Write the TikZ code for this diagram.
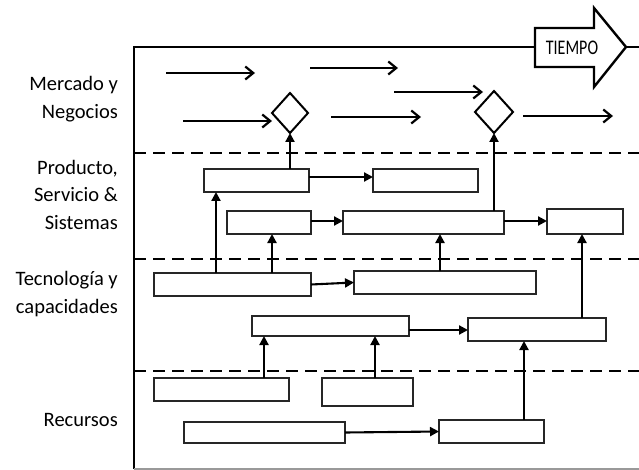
\documentclass[tikz,border=0pt]{standalone}
\usepackage{fontspec}
\setmainfont{Carlito}
\usetikzlibrary{arrows.meta,shapes.geometric}

\tikzset{
  lane/.style={line width=2.4pt, dash pattern=on 12pt off 7pt},
  frame/.style={line width=2.2pt},
  stagebox/.style={draw=black!85, line width=1.6pt, fill=white, rectangle,
    inner sep=0pt, outer sep=0pt},
  gate/.style={draw, line width=2pt, diamond, fill=white, inner sep=0pt,
    outer sep=0pt},
  flow/.style={line width=2.2pt, -{Straight Barb[length=8pt,width=13pt]}},
  conn/.style={line width=2.1pt, -{Triangle[length=9pt,width=9pt]}},
  lanelabel/.style={anchor=east, align=right, font=\fontsize{20.5}{27.5}\selectfont,
    inner sep=0pt},
}

\begin{document}
\begin{tikzpicture}[x=1pt, y=-1pt]
\useasboundingbox (0,0) rectangle (639,470);

% outer frame
\draw[frame] (134,469) -- (134,47) -- (639,47);
\draw[line width=1.6pt, black!40] (134,469) -- (639,469);

% time arrow
\draw[line width=2.4pt, fill=white, line join=miter]
  (535,28) -- (594,28) -- (594,8) -- (626,47) -- (594,87) -- (594,67)
  -- (535,67) -- cycle;
\node[font=\fontsize{16}{16}\selectfont] (tiempo) at (572,48) {\scalebox{1}[1.3]{TIEMPO}};

% lane separators
\draw[lane] (134,153) -- (639,153);
\draw[lane] (134,259) -- (639,259);
\draw[lane] (134,371) -- (639,371);

% lane labels
\node[lanelabel] (l1) at (118,99) {Mercado y\\Negocios};
\node[lanelabel] (l2) at (118,194.5) {Producto,\\Servicio \&\\Sistemas};
\node[lanelabel] (l3) at (118,294) {Tecnología y\\capacidades};
\node[lanelabel] (l4) at (118,420) {Recursos};

% market decision points
\node[gate, minimum width=36pt, minimum height=40pt] (d1) at (290,113) {};
\node[gate, minimum width=38pt, minimum height=42pt] (d2) at (494,112) {};

% market flows
\coordinate (m1a) at (166,73);  \coordinate (m1b) at (255,73);
\coordinate (m2a) at (310,68);  \coordinate (m2b) at (398,68);
\coordinate (m3a) at (394,92);  \coordinate (m3b) at (483,92);
\coordinate (m4a) at (183,121); \coordinate (m4b) at (272,121);
\coordinate (m5a) at (331,117); \coordinate (m5b) at (421,117);
\coordinate (m6a) at (523,116); \coordinate (m6b) at (613,116);
\draw[flow] (m1a) -- (m1b);
\draw[flow] (m2a) -- (m2b);
\draw[flow] (m3a) -- (m3b);
\draw[flow] (m4a) -- (m4b);
\draw[flow] (m5a) -- (m5b);
\draw[flow] (m6a) -- (m6b);

% product / service / systems
\node[stagebox, minimum width=105pt, minimum height=23pt] (p1) at (256.5,180.5) {};
\node[stagebox, minimum width=105pt, minimum height=23pt] (p2) at (425.5,180.5) {};
\node[stagebox, minimum width=84pt,  minimum height=23pt] (p3) at (269,222.5) {};
\node[stagebox, minimum width=161pt, minimum height=23pt] (p4) at (423.5,222.5) {};
\node[stagebox, minimum width=76pt,  minimum height=25pt] (p5) at (585,221.5) {};

% technology and capabilities
\node[stagebox, minimum width=157pt, minimum height=23pt] (t1) at (232.5,284.5) {};
\node[stagebox, minimum width=182pt, minimum height=23pt] (t2) at (445,282.5) {};
\node[stagebox, minimum width=157pt, minimum height=20pt] (t3) at (330.5,326) {};
\node[stagebox, minimum width=138pt, minimum height=23pt] (t4) at (537,329.5) {};

% resources
\node[stagebox, minimum width=135pt, minimum height=23pt] (r1) at (221.5,389.5) {};
\node[stagebox, minimum width=91pt,  minimum height=28pt] (r2) at (367.5,392) {};
\node[stagebox, minimum width=161pt, minimum height=21pt] (r3) at (264.5,432.5) {};
\node[stagebox, minimum width=105pt, minimum height=23pt] (r4) at (491.5,431.5) {};

% guide positions for connectors
\coordinate (x1) at (216,0);
\coordinate (x2) at (272,0);
\coordinate (x3) at (440,0);
\coordinate (x4) at (582,0);
\coordinate (x5) at (264,0);
\coordinate (x6) at (375,0);
\coordinate (x7) at (524,0);
\coordinate (y1) at (0,177);
\coordinate (y2) at (0,221);
\coordinate (y3) at (0,330);

% vertical links
\draw[conn] (p1.north -| d1.south) -- (d1.south);
\draw[conn] (p4.north -| d2.south) -- (d2.south);
\draw[conn] (t1.north -| x1) -- (p1.south -| x1);
\draw[conn] (t1.north -| x2) -- (p3.south -| x2);
\draw[conn] (t2.north -| x3) -- (p4.south -| x3);
\draw[conn] (t4.north -| x4) -- (p5.south -| x4);
\draw[conn] (r1.north -| x5) -- (t3.south -| x5);
\draw[conn] (r2.north -| x6) -- (t3.south -| x6);
\draw[conn] (r4.north -| x7) -- (t4.south -| x7);

% horizontal links
\draw[conn] (p1.east |- y1) -- (p2.west |- y1);
\draw[conn] (p3.east |- y2) -- (p4.west |- y2);
\draw[conn] (p4.east |- y2) -- (p5.west |- y2);
\draw[conn] (t1.east) -- (t2.west);
\draw[conn] (t3.east |- y3) -- (t4.west |- y3);
\draw[conn] (r3.east) -- (r4.west);
\end{tikzpicture}
\end{document}
